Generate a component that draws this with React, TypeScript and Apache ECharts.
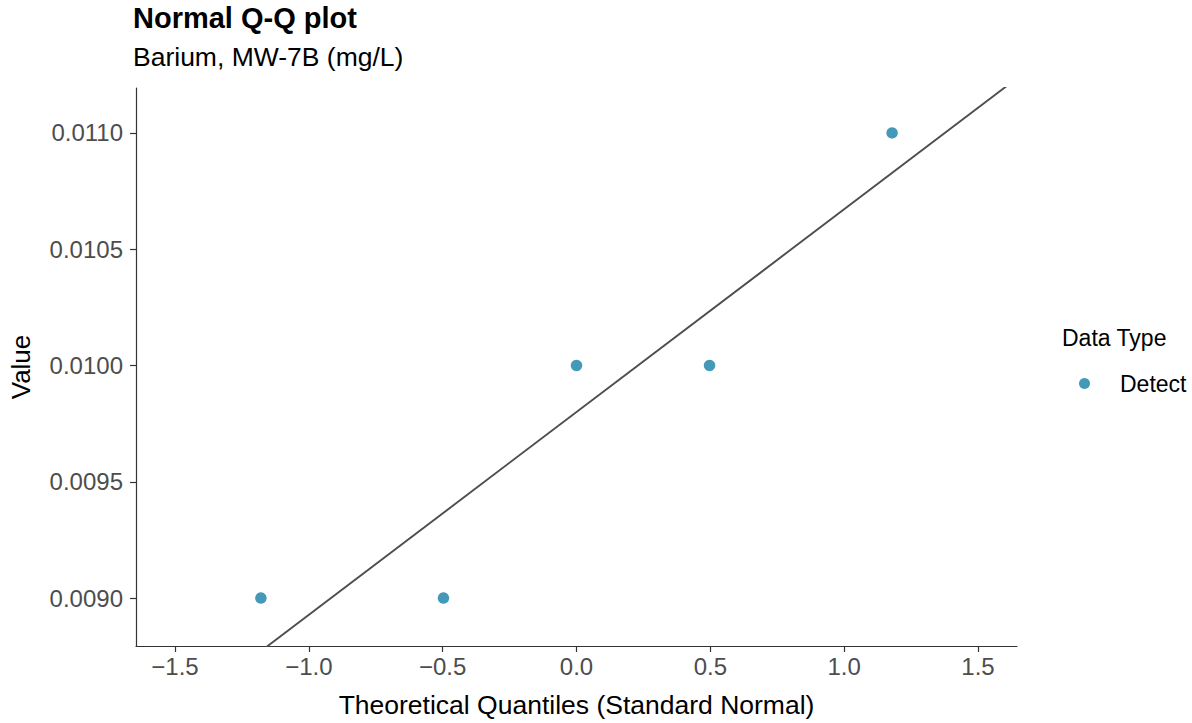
import React, { useEffect, useRef } from "react";
import * as echarts from "echarts";

const theoreticalQuantiles = [-1.179, -0.497, 0.0, 0.497, 1.179];
const sampleValues = [0.009, 0.009, 0.01, 0.01, 0.011];
const xTicks = [-1.5, -1.0, -0.5, 0.0, 0.5, 1.0, 1.5];
const yTicks = [0.009, 0.0095, 0.01, 0.0105, 0.011];
const xRange = [-1.6456, 1.6456];
const yRange = [0.008794, 0.011193];
const lineIntercept = 0.0098;
const lineSlope = 0.000872;

const FONT = "Liberation Sans, Arial, Helvetica, sans-serif";
const minus = (s: string) => s.replace("-", "\u2212");

export default function App() {
  const ref = useRef<HTMLDivElement>(null);
  useEffect(() => {
    document.body.style.margin = "0";
    const chart = echarts.init(ref.current!, null, { renderer: "svg" });
    const points = theoreticalQuantiles.map((x, i) => [x, sampleValues[i]]);
    const lineData = xRange.map((x) => [x, lineIntercept + lineSlope * x]);
    chart.setOption({
      animation: false,
      textStyle: { fontFamily: FONT },
      title: [
        {
          text: "Normal Q-Q plot",
          left: 133,
          top: 3,
          padding: 0,
          textStyle: { fontFamily: FONT, fontSize: 29, fontWeight: "bold", color: "#000" },
        },
        {
          text: "Barium, MW-7B (mg/L)",
          left: 133,
          top: 43,
          padding: 0,
          textStyle: { fontFamily: FONT, fontSize: 26.5, fontWeight: "normal", color: "#000" },
        },
        {
          text: "Data Type",
          left: 1062,
          top: 326,
          padding: 0,
          textStyle: { fontFamily: FONT, fontSize: 23, fontWeight: "normal", color: "#000" },
        },
      ],
      legend: {
        data: ["Detect"],
        left: 1079,
        top: 372,
        padding: 0,
        itemWidth: 11,
        itemHeight: 11,
        icon: "circle",
        textStyle: { fontFamily: FONT, fontSize: 23, color: "#000", padding: [0, 0, 0, 25] },
      },
      grid: { left: 133, right: 175, top: 88, bottom: 76, containLabel: false },
      xAxis: {
        type: "value",
        min: xRange[0],
        max: xRange[1],
        name: "Theoretical Quantiles (Standard Normal)",
        nameLocation: "middle",
        nameGap: 45,
        nameTextStyle: { fontFamily: FONT, fontSize: 26.5, color: "#000" },
        axisLine: { show: true, onZero: false, lineStyle: { color: "#333", width: 1.2 } },
        axisTick: { show: true, length: 6, customValues: xTicks, lineStyle: { color: "#333", width: 1.2 } },
        axisLabel: {
          customValues: xTicks,
          margin: 8,
          fontFamily: FONT,
          fontSize: 24,
          color: "#4d4d4d",
          formatter: (v: number) => minus(v.toFixed(1)),
        },
        splitLine: { show: false },
      },
      yAxis: {
        type: "value",
        min: yRange[0],
        max: yRange[1],
        name: "Value",
        nameLocation: "middle",
        nameGap: 102,
        nameTextStyle: { fontFamily: FONT, fontSize: 26, color: "#000" },
        axisLine: { show: true, onZero: false, lineStyle: { color: "#333", width: 1.2 } },
        axisTick: { show: true, length: 6, customValues: yTicks, lineStyle: { color: "#333", width: 1.2 } },
        axisLabel: {
          customValues: yTicks,
          margin: 13,
          fontFamily: FONT,
          fontSize: 24,
          color: "#4d4d4d",
          formatter: (v: number) => v.toFixed(4),
        },
        splitLine: { show: false },
      },
      series: [
        {
          name: "Detect",
          type: "scatter",
          data: points,
          symbol: "circle",
          symbolSize: 11.5,
          itemStyle: { color: "#4499b8", opacity: 1 },
          z: 2,
        },
        {
          name: "QQ line",
          type: "line",
          data: lineData,
          symbol: "none",
          clip: true,
          lineStyle: { color: "#4d4d4d", width: 1.9 },
          z: 3,
        },
      ],
    });
    return () => chart.dispose();
  }, []);
  return <div ref={ref} style={{ position: "absolute", left: 0, top: 0, width: 1192, height: 723 }} />;
}
